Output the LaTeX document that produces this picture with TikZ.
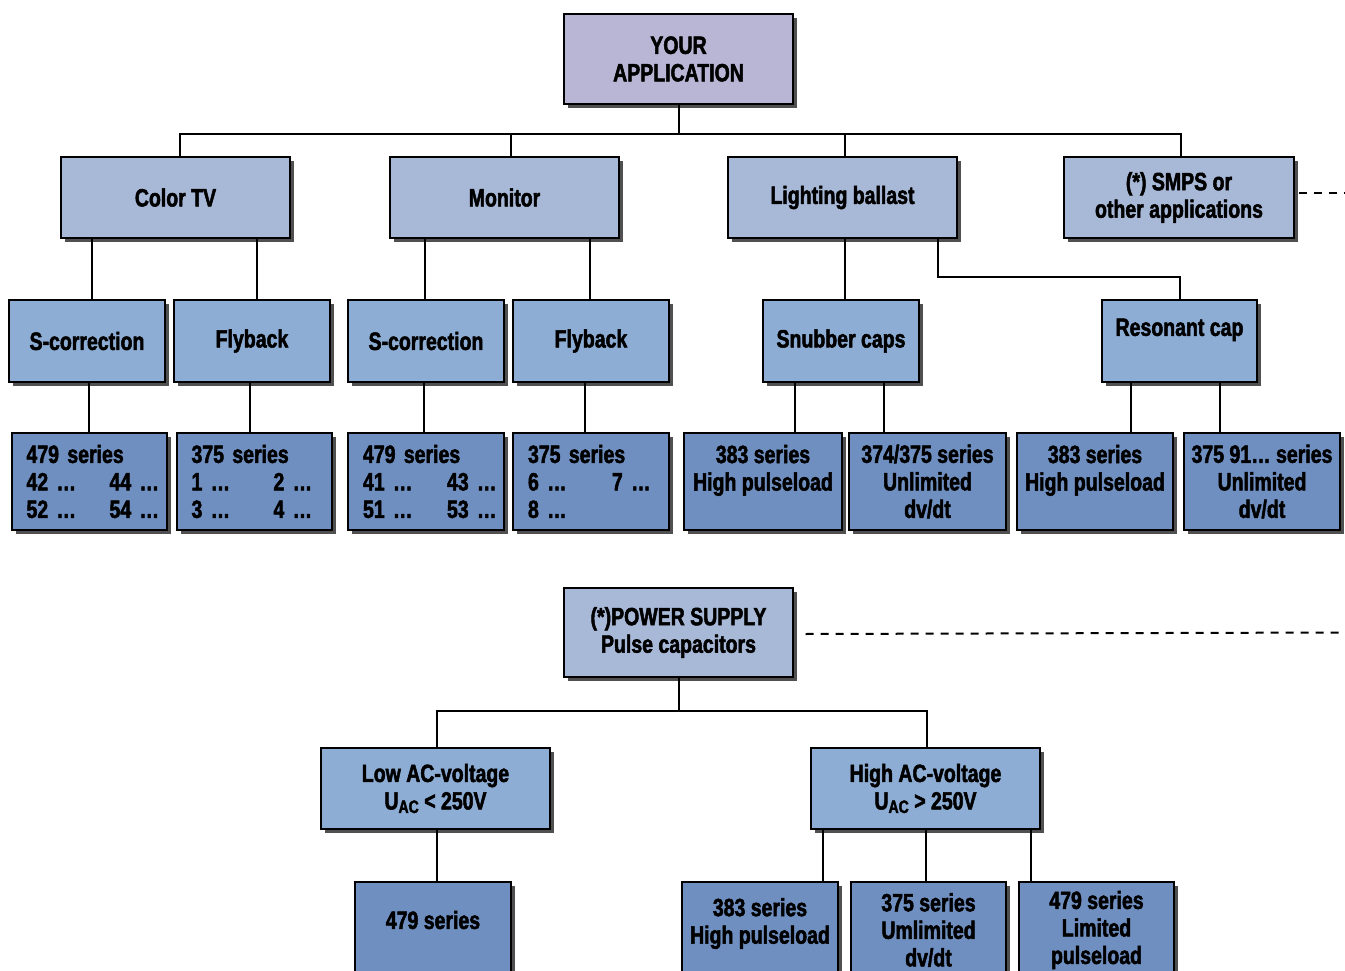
\documentclass[tikz,border=0pt]{standalone}
\usepackage{fontspec}
\newfontfamily\diagfont{Liberation Sans Bold}[FakeStretch=0.78, FakeBold=2]
\usetikzlibrary{shadows}
\definecolor{cTop}{RGB}{184,182,212}
\definecolor{cLa}{RGB}{168,184,215}
\definecolor{cLb}{RGB}{141,173,212}
\definecolor{cLc}{RGB}{111,143,192}
\definecolor{cShadow}{RGB}{80,80,80}
\newcommand\mybox[7]{%
  \node[#2, minimum width={(#5-#3)*1pt}, minimum height={(#6-#4)*1pt}] (#1) at ({(#3+#5)/2},{(#4+#6)/2}) {#7};}
\newcommand\subAC{\raisebox{-3.5pt}{\fontsize{18}{18}\selectfont AC}}
\tikzset{
  box/.style={draw=black, line width=1.3pt, inner sep=0pt, align=center,
    font=\diagfont\fontsize{25}{27.5}\selectfont,
    drop shadow={shadow xshift=4pt, shadow yshift=-4pt, fill=cShadow, opacity=1}},
  boxtop/.style={box, fill=cTop},
  boxa/.style={box, fill=cLa},
  boxb/.style={box, fill=cLb},
  boxc/.style={box, fill=cLc},
  boxl/.style={box, fill=cLc, text width=126pt, align=left},
  txt/.style={inner sep=0pt, align=center, font=\diagfont\fontsize{25}{27.5}\selectfont},
  conn/.style={draw=black, line width=2pt},
  dashline/.style={draw=black, line width=2pt, dash pattern=on 8pt off 7pt}
}
\begin{document}
\begin{tikzpicture}[x=1pt, y=-1pt]
\useasboundingbox (0,0) rectangle (1345,971);
\coordinate (busL) at (180,134);
\coordinate (busR) at (1181,134);
\coordinate (jmon) at (511,134);
\coordinate (jlb) at (845,134);
\coordinate (elb) at (938,277);
\coordinate (pbL) at (437,711);
\coordinate (pbR) at (927,711);
\coordinate (dEa) at (1345,193);
\coordinate (dEb) at (1345,634);

% top
\mybox{app}{boxtop}{564}{14}{793}{104}{YOUR\\APPLICATION}
% level 1
\mybox{tv}{boxa}{61}{157}{290}{238}{Color TV}
\mybox{mon}{boxa}{390}{157}{619}{238}{Monitor}
\mybox{lb}{boxa}{728}{157}{957}{238}{Lighting ballast}
\mybox{smps}{boxa}{1064}{157}{1294}{238}{(*) SMPS or\\other applications}
% level 2
\mybox{sca}{boxb}{9}{300}{165}{382}{S-correction}
\mybox{fba}{boxb}{174}{300}{330}{382}{Flyback}
\mybox{scb}{boxb}{348}{300}{504}{382}{S-correction}
\mybox{fbb}{boxb}{513}{300}{669}{382}{Flyback}
\mybox{snub}{boxb}{763}{300}{919}{382}{Snubber caps}
\mybox{res}{boxb}{1102}{300}{1257}{382}{Resonant cap\\~}
% level 3
\mybox{sfa}{boxl}{12}{433}{167}{530}{479 series\\\makebox[83pt][l]{42~…}44~…\\\makebox[83pt][l]{52~…}54~…}
\mybox{sta}{boxl}{177}{433}{332}{530}{375 series\\\makebox[82pt][l]{1~…}2~…\\\makebox[82pt][l]{3~…}4~…}
\mybox{sfb}{boxl}{348}{433}{504}{530}{479 series\\\makebox[84pt][l]{41~…}43~…\\\makebox[84pt][l]{51~…}53~…}
\mybox{stb}{boxl}{513}{433}{669}{530}{375 series\\\makebox[84pt][l]{6~…}7~…\\8~…}
\mybox{sea}{boxc}{684}{433}{842}{530}{383 series\\High pulseload\\~}
\mybox{sfs}{boxc}{849}{433}{1006}{530}{374/375 series\\Unlimited\\dv/dt}
\mybox{seb}{boxc}{1017}{433}{1173}{530}{383 series\\High pulseload\\~}
\mybox{snn}{boxc}{1184}{433}{1340}{530}{375 91… series\\Unlimited\\dv/dt}
% lower tree
\mybox{ps}{boxa}{564}{588}{793}{677}{(*)POWER SUPPLY\\Pulse capacitors}
\mybox{low}{boxb}{321}{748}{550}{829}{Low AC-voltage\\U\subAC{} < 250V}
\mybox{high}{boxb}{811}{748}{1040}{829}{High AC-voltage\\U\subAC{} > 250V}
\mybox{bfa}{boxc}{355}{882}{511}{978}{}
\node[txt] (bfat) at (433,920) {479 series};
\mybox{bea}{boxc}{682}{882}{838}{978}{}
\node[txt] (beat) at (760,923.5) {383 series\\High pulseload};
\mybox{bta}{boxc}{851}{882}{1006}{978}{375 series\\Umlimited\\dv/dt}
\mybox{bfb}{boxc}{1019}{882}{1174}{978}{479 series\\Limited\\pulseload}

% connectors
\draw[conn] (app.south) -- (app.south |- busL);
\draw[conn] (tv.north -| busL) -- (busL) -- (busR) -- (smps.north -| busR);
\draw[conn] (mon.north -| jmon) -- (jmon);
\draw[conn] (lb.north -| jlb) -- (jlb);
\draw[conn] (tv.south -| 92,0) -- (sca.north -| 92,0);
\draw[conn] (tv.south -| 257,0) -- (fba.north -| 257,0);
\draw[conn] (mon.south -| 425,0) -- (scb.north -| 425,0);
\draw[conn] (mon.south -| 590,0) -- (fbb.north -| 590,0);
\draw[conn] (lb.south -| 845,0) -- (snub.north -| 845,0);
\draw[conn] (lb.south -| elb) -- (elb) -| (res.north);
\draw[conn] (sca.south -| 89,0) -- (sfa.north -| 89,0);
\draw[conn] (fba.south -| 250,0) -- (sta.north -| 250,0);
\draw[conn] (scb.south -| 424,0) -- (sfb.north -| 424,0);
\draw[conn] (fbb.south -| 585,0) -- (stb.north -| 585,0);
\draw[conn] (snub.south -| 795,0) -- (sea.north -| 795,0);
\draw[conn] (snub.south -| 884,0) -- (sfs.north -| 884,0);
\draw[conn] (res.south -| 1131,0) -- (seb.north -| 1131,0);
\draw[conn] (res.south -| 1220,0) -- (snn.north -| 1220,0);
\draw[conn] (ps.south) -- (ps.south |- pbL);
\draw[conn] (low.north -| pbL) -- (pbL) -- (pbR) -- (high.north -| pbR);
\draw[conn] (low.south -| 437,0) -- (bfa.north -| 437,0);
\draw[conn] (high.south -| 823,0) -- (bea.north -| 823,0);
\draw[conn] (high.south -| 926,0) -- (bta.north -| 926,0);
\draw[conn] (high.south -| 1031,0) -- (bfb.north -| 1031,0);
\draw[dashline] ([shift={(4pt,4.5pt)}]smps.east) -- (dEa);
\draw[dashline] ([xshift=12pt,yshift=-1.5pt]ps.east) -- (ps.east -| dEb);
\end{tikzpicture}
\end{document}
